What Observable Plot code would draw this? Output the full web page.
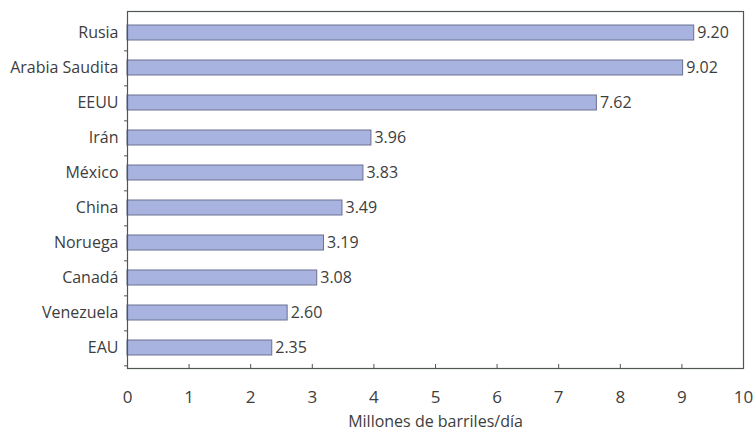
<!DOCTYPE html>
<html>
<head>
<meta charset="utf-8">
<script src="https://cdn.jsdelivr.net/npm/d3@7"></script>
<script src="https://cdn.jsdelivr.net/npm/@observablehq/plot@0.6"></script>
<style>
  html, body { margin: 0; padding: 0; background: #fff; }
  svg { display: block; }
</style>
</head>
<body>
<div id="chart"></div>
<script>
const countries = ["Rusia", "Arabia Saudita", "EEUU", "Irán", "México", "China", "Noruega", "Canadá", "Venezuela", "EAU"];
const values = [9.20, 9.02, 7.62, 3.96, 3.83, 3.49, 3.19, 3.08, 2.60, 2.35];
const xTicks = [0, 1, 2, 3, 4, 5, 6, 7, 8, 9, 10];
const xLabel = "Millones de barriles/día";

const data = countries.map((c, i) => ({country: c, value: values[i]}));

const W = 753, H = 435, mt = 11, mb = 67;
const step = (H - mt - mb) / countries.length;
const font = "'Open Sans', sans-serif";
const textColor = "#3d3d3d";
const lineColor = "#4e584e";

const chart = Plot.plot({
  width: W,
  height: H,
  marginTop: mt,
  marginBottom: mb,
  marginLeft: 127,
  marginRight: 10,
  style: {fontFamily: font, fontSize: "16px", color: textColor, background: "#fff"},
  x: {domain: [0, 10], ticks: xTicks},
  y: {domain: countries, paddingInner: 0.58, paddingOuter: 0.29, label: null},
  marks: [
    Plot.barX(data, {x: "value", y: "country", fill: "#a9b3e0", stroke: "#6b7090", strokeWidth: 1}),
    Plot.text(data, {x: "value", y: "country", text: d => d.value.toFixed(2), textAnchor: "start", dx: 3, fill: textColor, fontSize: 16}),
    Plot.frame({stroke: lineColor, strokeWidth: 1.2}),
    Plot.axisY({tickSize: 0, tickPadding: 9, label: null, fontSize: 16, fill: textColor}),
    Plot.axisY({text: null, tickSize: 3, dy: step / 2, stroke: lineColor, label: null}),
    Plot.axisX({text: null, tickSize: -4, stroke: lineColor, label: null, ticks: xTicks}),
    Plot.axisX({tickSize: 0, tickPadding: 22, label: null, fontSize: 17, fill: textColor, ticks: xTicks, tickFormat: d3.format("d")}),
    Plot.text([xLabel], {frameAnchor: "bottom", dy: 58, fontSize: 16, fill: textColor})
  ]
});
document.getElementById("chart").appendChild(chart);
</script>
</body>
</html>
